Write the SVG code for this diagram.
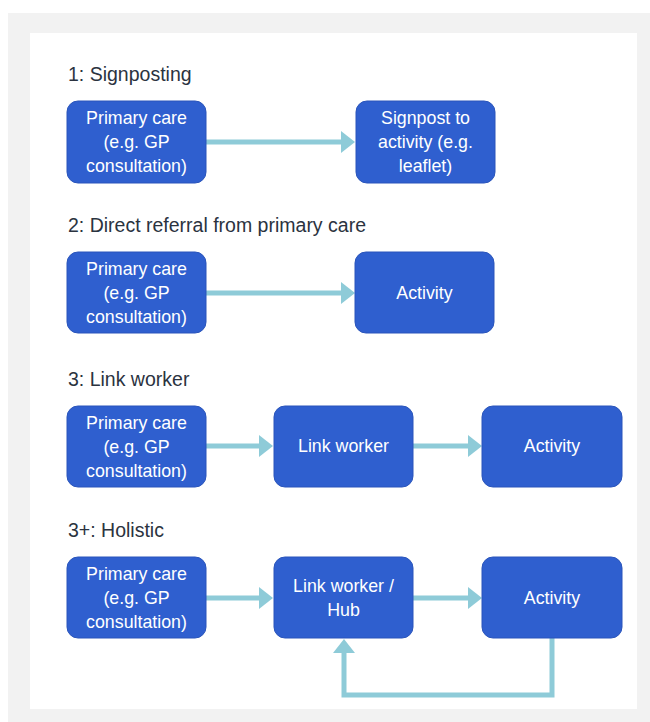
<svg xmlns="http://www.w3.org/2000/svg" width="650" height="722" viewBox="0 0 650 722">
<defs>
<marker id="ah" markerUnits="userSpaceOnUse" markerWidth="14" markerHeight="22" refX="6" refY="11" orient="auto" viewBox="0 0 14 22">
<path d="M0,0 L14,11 L0,22 Z" fill="#8ecbd8"/>
</marker>
<style>
.box{fill:#2f5fcf;stroke:#2a55bb;stroke-width:1}
.t{font-family:"Liberation Sans",Arial,sans-serif;font-size:17.8px;fill:#ffffff;text-anchor:middle}
.h{font-family:"Liberation Sans",Arial,sans-serif;font-size:19.5px;fill:#2b3340}
.c{fill:none;stroke:#8ecbd8;stroke-width:5;marker-end:url(#ah)}
</style>
</defs>
<rect x="0" y="0" width="650" height="722" fill="#ffffff"/>
<rect x="8" y="13" width="642" height="709" fill="#f2f2f2"/>
<rect x="30" y="33" width="607" height="676" fill="#ffffff"/>

<text class="h" x="68" y="81">1: Signposting</text>
<text class="h" x="68" y="232">2: Direct referral from primary care</text>
<text class="h" x="68" y="386">3: Link worker</text>
<text class="h" x="68" y="537">3+: Holistic</text>

<g id="connectors">
<line class="c" x1="206" y1="142" x2="347" y2="142"/>
<line class="c" x1="206" y1="293" x2="347" y2="293"/>
<line class="c" x1="206" y1="446" x2="265" y2="446"/>
<line class="c" x1="413" y1="446" x2="474" y2="446"/>
<line class="c" x1="206" y1="598" x2="265" y2="598"/>
<line class="c" x1="413" y1="598" x2="474" y2="598"/>
<polyline class="c" points="552,638 552,695 344,695 344,647"/>
</g>

<g id="n1a"><rect class="box" x="67" y="101" width="139" height="82" rx="11"/>
<text class="t" x="136.5" y="124">Primary care</text><text class="t" x="136.5" y="148">(e.g. GP</text><text class="t" x="136.5" y="172">consultation)</text></g>
<g id="n1b"><rect class="box" x="356" y="101" width="139" height="82" rx="11"/>
<text class="t" x="425.5" y="124">Signpost to</text><text class="t" x="425.5" y="148">activity (e.g.</text><text class="t" x="425.5" y="172">leaflet)</text></g>

<g id="n2a"><rect class="box" x="67" y="252" width="139" height="81" rx="11"/>
<text class="t" x="136.5" y="275">Primary care</text><text class="t" x="136.5" y="299">(e.g. GP</text><text class="t" x="136.5" y="323">consultation)</text></g>
<g id="n2b"><rect class="box" x="355" y="252" width="139" height="81" rx="11"/>
<text class="t" x="424.5" y="299">Activity</text></g>

<g id="n3a"><rect class="box" x="67" y="406" width="139" height="81" rx="11"/>
<text class="t" x="136.5" y="429">Primary care</text><text class="t" x="136.5" y="453">(e.g. GP</text><text class="t" x="136.5" y="477">consultation)</text></g>
<g id="n3b"><rect class="box" x="274" y="406" width="139" height="81" rx="11"/>
<text class="t" x="343.5" y="452">Link worker</text></g>
<g id="n3c"><rect class="box" x="482" y="406" width="140" height="81" rx="11"/>
<text class="t" x="552" y="452">Activity</text></g>

<g id="n4a"><rect class="box" x="67" y="557" width="139" height="81" rx="11"/>
<text class="t" x="136.5" y="580">Primary care</text><text class="t" x="136.5" y="604">(e.g. GP</text><text class="t" x="136.5" y="628">consultation)</text></g>
<g id="n4b"><rect class="box" x="274" y="557" width="139" height="81" rx="11"/>
<text class="t" x="343.5" y="592">Link worker /</text><text class="t" x="343.5" y="616">Hub</text></g>
<g id="n4c"><rect class="box" x="482" y="557" width="140" height="81" rx="11"/>
<text class="t" x="552" y="604">Activity</text></g>
</svg>
